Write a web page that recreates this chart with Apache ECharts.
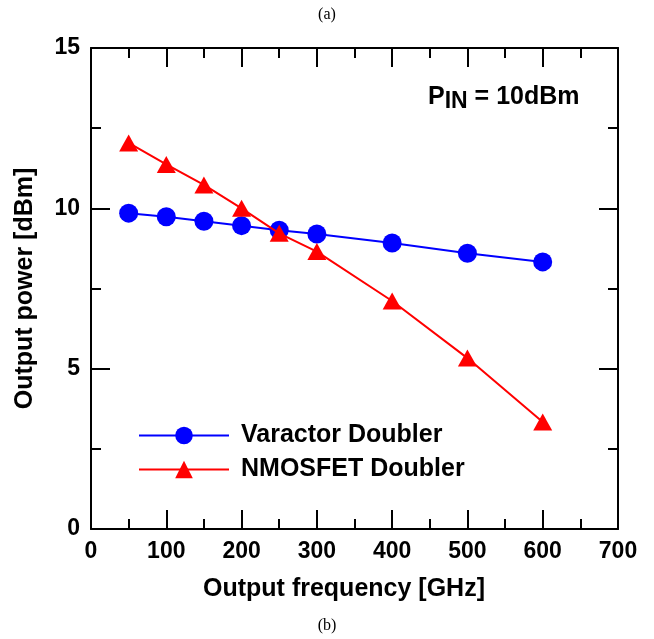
<!DOCTYPE html>
<html>
<head>
<meta charset="utf-8">
<script src="https://cdn.jsdelivr.net/npm/echarts@6/dist/echarts.min.js"></script>
<style>
html,body{margin:0;padding:0;background:#fff;}
#chart{width:654px;height:639px;}
</style>
</head>
<body>
<div id="chart"></div>
<script>
const freq = [50, 100, 150, 200, 250, 300, 400, 500, 600];
const varactor = [9.85, 9.74, 9.6, 9.46, 9.32, 9.2, 8.92, 8.6, 8.33];
const nmos = [12.04, 11.37, 10.73, 10.0, 9.22, 8.65, 7.11, 5.33, 3.34];
const seriesNames = ['Varactor Doubler', 'NMOSFET Doubler'];
const xName = 'Output frequency [GHz]';
const yName = 'Output power [dBm]';

const font = 'Liberation Sans, Arial, sans-serif';
const chart = echarts.init(document.getElementById('chart'));

const axisLine = {show: true, onZero: false, lineStyle: {color: '#000', width: 2}};
const tick = {show: true, inside: true, length: 19, lineStyle: {color: '#000', width: 2}};
const minor = {show: true, splitNumber: 2, length: 10, lineStyle: {color: '#000', width: 2}};
const lbl = {color: '#000', fontSize: 23, fontWeight: 'bold', fontFamily: font};
const nameLbl = {color: '#000', fontSize: 25, fontWeight: 'bold', fontFamily: font};

chart.setOption({
  animation: false,
  backgroundColor: '#fff',
  grid: {left: 91, right: 36, top: 48, bottom: 110, containLabel: false},
  xAxis: [
    {type: 'value', min: 0, max: 700, interval: 100, position: 'bottom',
     axisLine: axisLine, axisTick: tick, minorTick: minor, splitLine: {show: false},
     axisLabel: Object.assign({margin: 11}, lbl),
     name: xName, nameLocation: 'middle', nameGap: 48,
     nameTextStyle: Object.assign({padding: [0, 21, 0, 0]}, nameLbl)},
    {type: 'value', min: 0, max: 700, interval: 100, position: 'top',
     axisLine: axisLine, axisTick: tick, minorTick: minor, splitLine: {show: false},
     axisLabel: {show: false}}
  ],
  yAxis: [
    {type: 'value', min: 0, max: 15, interval: 5, position: 'left',
     axisLine: axisLine, axisTick: tick, minorTick: minor, splitLine: {show: false},
     axisLabel: Object.assign({margin: 11}, lbl),
     name: yName, nameLocation: 'middle', nameGap: 53, nameTextStyle: nameLbl},
    {type: 'value', min: 0, max: 15, interval: 5, position: 'right',
     axisLine: axisLine, axisTick: tick, minorTick: minor, splitLine: {show: false},
     axisLabel: {show: false}}
  ],
  legend: {
    orient: 'vertical', left: 133, top: 418, itemWidth: 90, itemHeight: 22, itemGap: 9,
    textStyle: {color: '#000', fontSize: 25, fontWeight: 'bold', fontFamily: font, padding: [0, 0, 0, 7]},
    data: seriesNames
  },
  series: [
    {name: seriesNames[0], type: 'line', xAxisIndex: 0, yAxisIndex: 0,
     data: freq.map((f, i) => [f, varactor[i]]),
     symbol: 'circle', symbolSize: 19,
     lineStyle: {color: '#0000ff', width: 2}, itemStyle: {color: '#0000ff'}, z: 2},
    {name: seriesNames[1], type: 'line', xAxisIndex: 0, yAxisIndex: 0,
     data: freq.map((f, i) => [f, nmos[i]]),
     symbol: 'triangle', symbolSize: [19, 17],
     lineStyle: {color: '#ff0000', width: 2}, itemStyle: {color: '#ff0000'}, z: 3}
  ],
  graphic: [
    {type: 'text', left: 428, top: 85,
     style: {rich: {
       p: {fontSize: 25, fontWeight: 'bold', fontFamily: font, fill: '#000'},
       s: {fontSize: 23, fontWeight: 'bold', fontFamily: font, fill: '#000', verticalAlign: 'bottom', padding: [9, 0, 0, 0]}
     }, text: '{p|P}{s|IN}{p| = 10dBm}', fill: '#000'}},
    {type: 'text', left: 'center', top: 7,
     style: {text: '(a)', fontSize: 16, fontFamily: 'Liberation Serif, Times New Roman, serif', fill: '#000'}},
    {type: 'text', left: 'center', top: 618,
     style: {text: '(b)', fontSize: 16, fontFamily: 'Liberation Serif, Times New Roman, serif', fill: '#000'}}
  ]
});
</script>
</body>
</html>
